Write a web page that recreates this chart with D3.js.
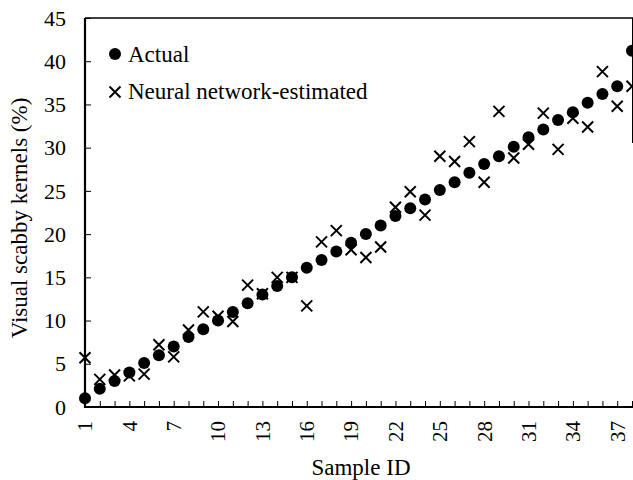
<!DOCTYPE html>
<html>
<head>
<meta charset="utf-8">
<script src="https://cdn.jsdelivr.net/npm/d3@7"></script>
<style>
  body { margin: 0; background: #fff; }
  svg { display: block; font-family: "Liberation Serif", "Times New Roman", serif; }
</style>
</head>
<body>
<svg width="633" height="480"></svg>
<script>
// Sample IDs and the two series
const sampleIds = [1, 2, 3, 4, 5, 6, 7, 8, 9, 10, 11, 12, 13, 14, 15, 16, 17, 18, 19,
  20, 21, 22, 23, 24, 25, 26, 27, 28, 29, 30, 31, 32, 33, 34, 35, 36, 37, 38];

const actual = [1.0, 2.1, 3.0, 4.0, 5.1, 6.0, 7.0, 8.1, 9.0, 10.0, 11.0, 12.0, 13.0,
  14.0, 15.0, 16.1, 17.0, 18.0, 19.0, 20.0, 21.0, 22.1, 23.0, 24.0, 25.1, 26.0, 27.1,
  28.1, 29.0, 30.1, 31.2, 32.1, 33.2, 34.1, 35.2, 36.2, 37.1, 41.2];

const estimated = [5.7, 3.2, 3.7, 3.6, 3.8, 7.2, 5.8, 8.9, 11.0, 10.5, 9.9, 14.1, 13.1,
  15.0, 15.0, 11.7, 19.1, 20.4, 18.2, 17.3, 18.5, 23.1, 24.9, 22.2, 29.0, 28.4, 30.7,
  26.0, 34.2, 28.8, 30.4, 34.0, 29.8, 33.4, 32.4, 38.8, 34.8, 37.1];

const xTickLabels = [1, 4, 7, 10, 13, 16, 19, 22, 25, 28, 31, 34, 37];
const yTicks = [0, 5, 10, 15, 20, 25, 30, 35, 40, 45];

const pLeft = 85, pRight = 632, pTop = 18, pBottom = 407;

const svg = d3.select("svg");

const x = d3.scaleLinear().domain([1, 38]).range([pLeft, pRight]);
const y = d3.scaleLinear().domain([0, 45]).range([pBottom, pTop]);

// frame: top border and a short right edge
svg.append("line")
  .attr("x1", pLeft).attr("x2", 633).attr("y1", pTop).attr("y2", pTop)
  .attr("stroke", "#000").attr("stroke-width", 1.5);
svg.append("line")
  .attr("x1", 632.5).attr("x2", 632.5).attr("y1", pTop).attr("y2", 143)
  .attr("stroke", "#000").attr("stroke-width", 1);

// y axis
const yAxis = svg.append("g")
  .attr("transform", `translate(${pLeft},0)`)
  .call(d3.axisRight(y).tickValues(yTicks).tickSize(6).tickFormat(""));
yAxis.select(".domain").remove();
yAxis.selectAll(".tick line").attr("stroke-width", 1);

svg.append("line")
  .attr("x1", pLeft).attr("x2", pLeft).attr("y1", pTop).attr("y2", pBottom + 1)
  .attr("stroke", "#000").attr("stroke-width", 2.2);

svg.append("g").selectAll("text")
  .data(yTicks)
  .join("text")
  .attr("x", 66)
  .attr("y", d => y(d))
  .attr("dy", "0.35em")
  .attr("text-anchor", "end")
  .attr("font-size", 22)
  .text(d => d);

// x axis
const xAxis = svg.append("g")
  .attr("transform", `translate(0,${pBottom})`)
  .call(d3.axisTop(x).tickValues(sampleIds).tickSize(6).tickFormat(""));
xAxis.select(".domain").remove();
xAxis.selectAll(".tick line").attr("stroke-width", 1);

svg.append("line")
  .attr("x1", pLeft - 1).attr("x2", 633).attr("y1", pBottom).attr("y2", pBottom)
  .attr("stroke", "#000").attr("stroke-width", 2.2);

svg.append("g").selectAll("text")
  .data(xTickLabels)
  .join("text")
  .attr("transform", d => `translate(${x(d)},421) rotate(-90)`)
  .attr("dy", "0.35em")
  .attr("text-anchor", "end")
  .attr("font-size", 21)
  .text(d => d);

// axis titles
svg.append("text")
  .attr("x", 361).attr("y", 475)
  .attr("text-anchor", "middle")
  .attr("font-size", 23)
  .text("Sample ID");

svg.append("text")
  .attr("transform", "translate(27,218) rotate(-90)")
  .attr("text-anchor", "middle")
  .attr("font-size", 23)
  .text("Visual scabby kernels (%)");

// markers
const cross = (g, cx, cy, s) => {
  g.append("path")
    .attr("d", `M${cx - s},${cy - s}L${cx + s},${cy + s}M${cx - s},${cy + s}L${cx + s},${cy - s}`)
    .attr("stroke", "#000").attr("stroke-width", 2).attr("fill", "none");
};

const plot = svg.append("g");

plot.selectAll("circle")
  .data(sampleIds)
  .join("circle")
  .attr("cx", (d, i) => x(d))
  .attr("cy", (d, i) => y(actual[i]))
  .attr("r", 6)
  .attr("fill", "#000");

const crosses = plot.append("g");
sampleIds.forEach((d, i) => cross(crosses, x(d), y(estimated[i]), 5.5));

// legend
const legend = svg.append("g");
legend.append("circle").attr("cx", 115).attr("cy", 54).attr("r", 6).attr("fill", "#000");
legend.append("text").attr("x", 128).attr("y", 62).attr("font-size", 23).text("Actual");
cross(legend, 115, 92, 5.5);
legend.append("text").attr("x", 128).attr("y", 99).attr("font-size", 23).text("Neural network-estimated");
</script>
</body>
</html>
